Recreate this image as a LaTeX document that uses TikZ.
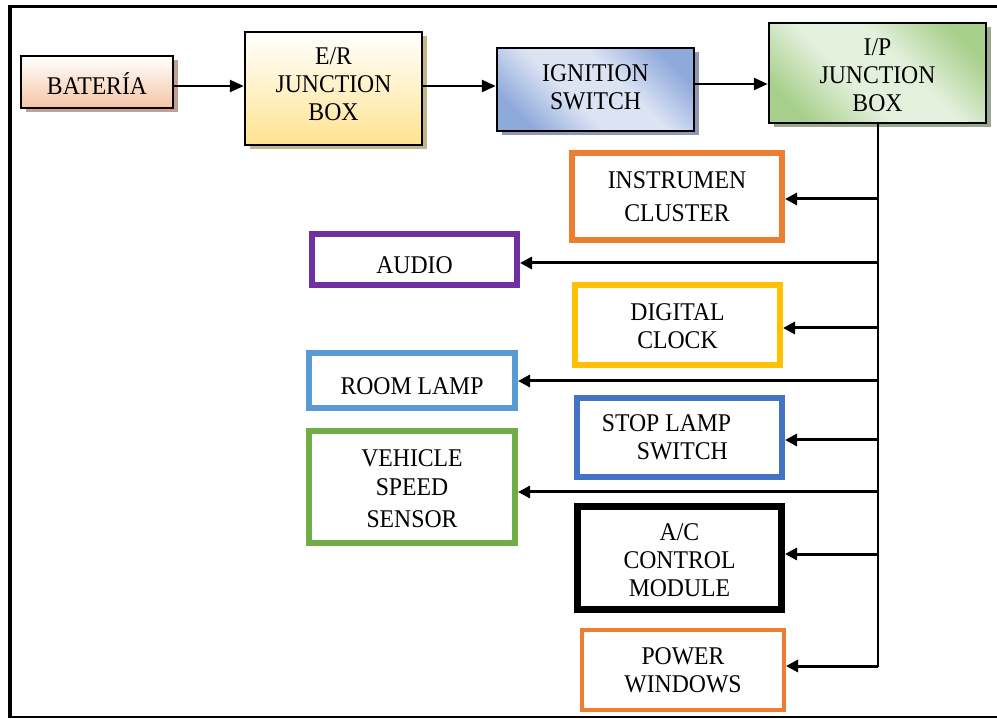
\documentclass[tikz,border=0pt]{standalone}
\usepackage{fontspec}
\setmainfont{Liberation Serif}[FakeStretch=0.93]
\usetikzlibrary{shadows,arrows.meta}
\definecolor{cOrange}{HTML}{ED7D31}
\definecolor{cPurple}{HTML}{7030A0}
\definecolor{cYellow}{HTML}{FFC000}
\definecolor{cLBlue}{HTML}{5B9BD5}
\definecolor{cBlue}{HTML}{4472C4}
\definecolor{cGreen}{HTML}{70AD47}
\definecolor{batB}{HTML}{F5C4A5}
\definecolor{batS}{HTML}{C3A08F}
\definecolor{erB}{HTML}{FFE391}
\definecolor{erS}{HTML}{C4B58A}
\definecolor{ignD}{HTML}{8EA9DB}
\definecolor{ignL}{HTML}{DCE4F4}
\definecolor{ignS}{HTML}{8E9AB3}
\definecolor{ipD}{HTML}{A8D08D}
\definecolor{ipL}{HTML}{E3F0DB}
\definecolor{ipS}{HTML}{98A98E}
\pgfdeclarehorizontalshading{ignsh}{100bp}{color(0bp)=(ignD); color(24bp)=(ignD); color(42bp)=(ignL); color(58bp)=(ignL); color(76bp)=(ignD); color(100bp)=(ignD)}
\pgfdeclarehorizontalshading{ipsh}{100bp}{color(0bp)=(ipD); color(24bp)=(ipD); color(42bp)=(ipL); color(58bp)=(ipL); color(76bp)=(ipD); color(100bp)=(ipD)}
\newcommand{\shtext}[2]{\raisebox{#1}[\height][\depth]{\begin{tabular}{@{}c@{}}#2\end{tabular}}}
\tikzset{
  txt/.style={font=\fontsize{25.5}{28}\selectfont, align=center},
  topbox/.style={txt, draw=black, line width=2.5pt, inner sep=0pt},
  cbox/.style={txt, draw=#1, line width=6pt, inner sep=0pt},
  shad/.style={drop shadow={shadow xshift=4.5pt, shadow yshift=-4.5pt, fill=#1, opacity=1}},
  toparr/.style={line width=2.5pt, -{Triangle[length=14pt,width=12pt]}},
  brarr/.style={line width=3pt, -{Triangle[length=12pt,width=12pt]}},
  frameline/.style={line width=#1, black}
}
\begin{document}
\begin{tikzpicture}[x=1pt,y=-1pt]
\useasboundingbox (0,0) rectangle (997,719);
% frame
\coordinate (fTL) at (10,7);
\coordinate (fTR) at (997,7);
\coordinate (fBL) at (10,717);
\coordinate (fBR) at (997,717);
\draw[frameline=3pt] (fTL) -- (fTR);
\draw[frameline=2.5pt] (fBL) -- (fBR);
\draw[frameline=4pt] ([yshift=1.5pt]fTL) -- ([yshift=-1.2pt]fBL);

% top row
\node[topbox, shad=batS, top color=white, bottom color=batB,
      minimum width=152pt, minimum height=52pt] (bat) at (97,82) {\shtext{-6pt}{BATERÍA}};
\node[topbox, shad=erS, top color=white, bottom color=erB,
      minimum width=177pt, minimum height=113pt] (er) at (333.5,88.5) {\shtext{2pt}{E/R\\JUNCTION\\BOX}};
\node[topbox, shad=ignS, shading=ignsh, shading angle=45,
      minimum width=197pt, minimum height=83pt] (ign) at (595.5,89.5) {\shtext{0pt}{IGNITION\\SWITCH}};
\node[topbox, shad=ipS, shading=ipsh, shading angle=45,
      minimum width=217pt, minimum height=100pt] (ip) at (877.5,73) {\shtext{-5pt}{I/P\\JUNCTION\\BOX}};

\coordinate (a1) at ([yshift=-4pt]bat.east);
\coordinate (a2) at ([yshift=2.5pt]er.east);
\coordinate (a3) at ([yshift=5.5pt]ign.east);
\draw[toparr] (a1) -- (er.west |- a1);
\draw[toparr] (a2) -- (ign.west |- a2);
\draw[toparr] (a3) -- (ip.west |- a3);

% consumers
\node[cbox=cOrange, minimum width=210pt, minimum height=87pt] (inst) at (677,196.5) {INSTRUMEN\\[5pt]CLUSTER};
\node[cbox=cPurple, minimum width=205pt, minimum height=51pt] (audio) at (414.5,259.5) {\shtext{-8pt}{AUDIO}};
\node[cbox=cYellow, minimum width=205pt, minimum height=80pt] (clock) at (677.5,325) {\shtext{-4pt}{DIGITAL\\CLOCK}};
\node[cbox=cLBlue, minimum width=206pt, minimum height=55pt] (room) at (412,380.5) {\shtext{-8pt}{ROOM LAMP}};
\node[cbox=cBlue, minimum width=205pt, minimum height=79pt, align=left] (stop) at (679.5,437.5)
  {STOP LAMP\rule{26pt}{0pt}\\\rule{35pt}{0pt}SWITCH};
\node[cbox=cGreen, minimum width=206pt, minimum height=112pt] (veh) at (412,487) {\shtext{-4pt}{VEHICLE\\[1pt]SPEED\\[4pt]SENSOR}};
\node[cbox=black, line width=7pt, minimum width=204pt, minimum height=103pt] (ac) at (679.5,558) {\shtext{-5pt}{A/C\\CONTROL\\MODULE}};
\node[cbox=cOrange, line width=4pt, minimum width=202pt, minimum height=80pt] (pw) at (683,670) {POWER\\WINDOWS};

% trunk
\coordinate (t1) at (878,199);
\coordinate (t2) at (878,263);
\coordinate (t3) at (878,328);
\coordinate (t4) at (878,381);
\coordinate (t5) at (878,440);
\coordinate (t6) at (878,492);
\coordinate (t7) at (878,554);
\coordinate (t8) at (878,666);
\coordinate (t0) at (ip.south -| t8);
\coordinate (t9) at ([yshift=-0.75pt]t8);
\draw[line width=1.2pt] (t0) -- (t9);

\draw[brarr] (t1) -- (inst.east |- t1);
\draw[brarr] (t2) -- (audio.east |- t2);
\draw[brarr] (t3) -- (clock.east |- t3);
\draw[brarr] (t4) -- (room.east |- t4);
\draw[brarr] (t5) -- (stop.east |- t5);
\draw[brarr] (t6) -- (veh.east |- t6);
\draw[brarr] (t7) -- (ac.east |- t7);
\draw[brarr] (t8) -- (pw.east |- t8);
\end{tikzpicture}
\end{document}
